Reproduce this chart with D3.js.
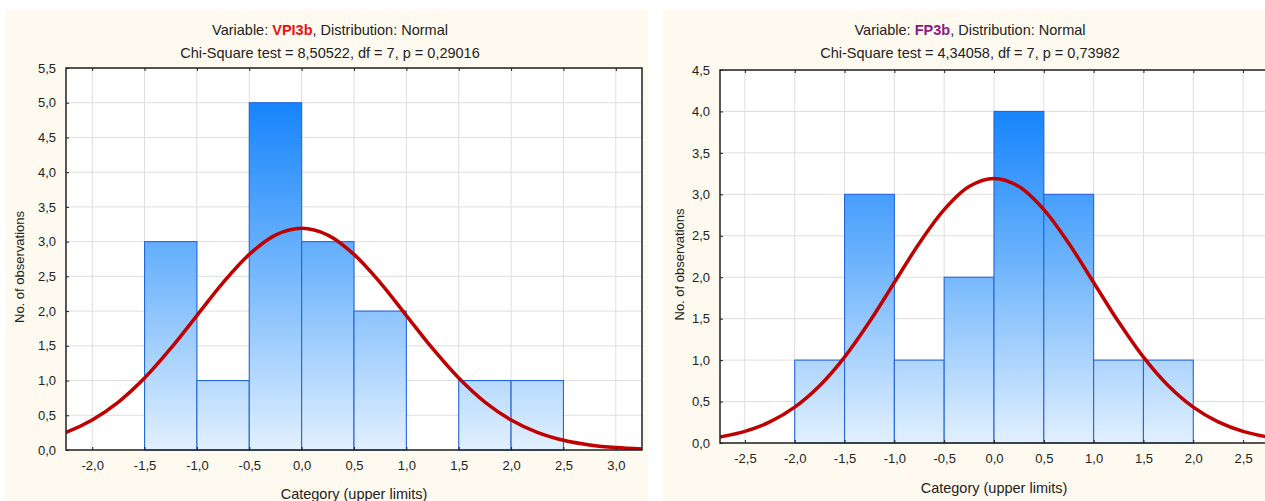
<!DOCTYPE html>
<html>
<head>
<meta charset="utf-8">
<script src="https://cdn.jsdelivr.net/npm/d3@7"></script>
<style>
  body { margin: 0; background: #fff; }
  text { font-family: "Liberation Sans", Arial, sans-serif; fill: #222; }
</style>
</head>
<body>
<svg id="chart" width="1265" height="501"></svg>
<script>
// bin edges (lower limits) and counts
const leftBins = [-1.5, -1.0, -0.5, 0.0, 0.5, 1.0, 1.5, 2.0];
const leftCounts = [3, 1, 5, 3, 2, 0, 1, 1];
const rightBins = [-2.0, -1.5, -1.0, -0.5, 0.0, 0.5, 1.0, 1.5];
const rightCounts = [1, 3, 1, 2, 4, 3, 1, 1];
const binWidth = 0.5;

// expected normal curve
const curveX = [-2.75, -2.5, -2.25, -2.0, -1.75, -1.5, -1.25, -1.0, -0.75, -0.5, -0.25, 0.0,
                0.25, 0.5, 0.75, 1.0, 1.25, 1.5, 1.75, 2.0, 2.25, 2.5, 2.75, 3.0, 3.25];
const curveY = [0.073, 0.140, 0.254, 0.432, 0.690, 1.036, 1.462, 1.936, 2.410, 2.816, 3.094, 3.191,
                3.094, 2.816, 2.410, 1.936, 1.462, 1.036, 0.690, 0.432, 0.254, 0.140, 0.073, 0.035, 0.016];

const leftXTicks = [-2.0, -1.5, -1.0, -0.5, 0.0, 0.5, 1.0, 1.5, 2.0, 2.5, 3.0];
const leftYTicks = [0, 0.5, 1, 1.5, 2, 2.5, 3, 3.5, 4, 4.5, 5, 5.5];
const rightXTicks = [-2.5, -2.0, -1.5, -1.0, -0.5, 0.0, 0.5, 1.0, 1.5, 2.0, 2.5];
const rightYTicks = [0, 0.5, 1, 1.5, 2, 2.5, 3, 3.5, 4, 4.5];

const locale = d3.formatLocale({ decimal: ",", thousands: ".", grouping: [3], currency: ["", ""], minus: "-" });
const fmt = locale.format(".1f");

const svg = d3.select("#chart");
const defs = svg.append("defs");

function drawPanel(o) {
    // panel background
    svg.append("rect")
        .attr("x", o.panel[0]).attr("y", o.panel[1])
        .attr("width", o.panel[2]).attr("height", o.panel[3])
        .attr("fill", "#fefaf0");

    const x = d3.scaleLinear().domain(o.xDomain).range([o.left, o.right]);
    const y = d3.scaleLinear().domain(o.yDomain).range([o.bottom, o.top]);

    // plot area
    svg.append("rect")
        .attr("x", o.left).attr("y", o.top)
        .attr("width", o.right - o.left).attr("height", o.bottom - o.top)
        .attr("fill", "#fff");

    defs.append("clipPath").attr("id", "clip-" + o.id)
        .append("rect")
        .attr("x", o.left).attr("y", o.top)
        .attr("width", o.right - o.left).attr("height", o.bottom - o.top);

    // grid
    const g = svg.append("g");
    g.selectAll(".gx").data(o.xTicks).enter().append("line")
        .attr("x1", d => x(d)).attr("x2", d => x(d))
        .attr("y1", o.top).attr("y2", o.bottom)
        .attr("stroke", "#dedede");
    g.selectAll(".gy").data(o.yTicks).enter().append("line")
        .attr("x1", o.left).attr("x2", o.right)
        .attr("y1", d => y(d)).attr("y2", d => y(d))
        .attr("stroke", "#dedede");

    // gradient runs from tallest bar down to baseline
    const grad = defs.append("linearGradient")
        .attr("id", "grad-" + o.id)
        .attr("gradientUnits", "userSpaceOnUse")
        .attr("x1", 0).attr("x2", 0)
        .attr("y1", y(d3.max(o.counts))).attr("y2", y(0));
    grad.append("stop").attr("offset", "0%").attr("stop-color", "#1784fb");
    grad.append("stop").attr("offset", "45%").attr("stop-color", "#6cb3fc");
    grad.append("stop").attr("offset", "100%").attr("stop-color", "#e2f0ff");

    const bars = o.bins.map((b, i) => ({ lo: b, hi: b + binWidth, n: o.counts[i] })).filter(d => d.n > 0);
    svg.append("g").selectAll("rect").data(bars).enter().append("rect")
        .attr("x", d => x(d.lo))
        .attr("y", d => y(d.n))
        .attr("width", d => x(d.hi) - x(d.lo))
        .attr("height", d => y(0) - y(d.n))
        .attr("fill", "url(#grad-" + o.id + ")")
        .attr("stroke", "#2566d8")
        .attr("stroke-width", 1.1);

    // normal curve
    const line = d3.line()
        .x((d, i) => x(curveX[i]))
        .y(d => y(d))
        .curve(d3.curveCatmullRom);
    svg.append("path")
        .datum(curveY)
        .attr("clip-path", "url(#clip-" + o.id + ")")
        .attr("d", line)
        .attr("fill", "none")
        .attr("stroke", "#c00000")
        .attr("stroke-width", 3.5);

    // frame
    svg.append("rect")
        .attr("x", o.left).attr("y", o.top)
        .attr("width", o.right - o.left).attr("height", o.bottom - o.top)
        .attr("fill", "none").attr("stroke", "#222").attr("stroke-width", 1.5);

    // axes with inner ticks
    svg.append("g")
        .attr("transform", "translate(0," + o.bottom + ")")
        .call(d3.axisBottom(x).tickValues(o.xTicks).tickFormat(fmt).tickSizeInner(-3).tickSizeOuter(0).tickPadding(11))
        .call(a => a.select(".domain").remove())
        .call(a => a.selectAll("text").attr("font-size", 13).attr("font-family", null))
        .call(a => a.selectAll("line").attr("stroke", "#222"));
    svg.append("g")
        .attr("transform", "translate(0," + o.top + ")")
        .call(d3.axisTop(x).tickValues(o.xTicks).tickFormat("").tickSizeInner(-3).tickSizeOuter(0))
        .call(a => a.select(".domain").remove())
        .call(a => a.selectAll("line").attr("stroke", "#222"));
    svg.append("g")
        .attr("transform", "translate(" + o.left + ",0)")
        .call(d3.axisLeft(y).tickValues(o.yTicks).tickFormat(fmt).tickSizeInner(-3).tickSizeOuter(0).tickPadding(10))
        .call(a => a.select(".domain").remove())
        .call(a => a.selectAll("text").attr("font-size", 13).attr("font-family", null))
        .call(a => a.selectAll("line").attr("stroke", "#222"));

    // titles
    const t1 = svg.append("text")
        .attr("x", o.titleX).attr("y", 35)
        .attr("text-anchor", "middle").attr("font-size", 14.5);
    t1.append("tspan").text("Variable: ");
    t1.append("tspan").text(o.variable).attr("fill", o.varColor).attr("font-weight", "bold");
    t1.append("tspan").text(", Distribution: Normal");

    svg.append("text")
        .attr("x", o.titleX).attr("y", 58)
        .attr("text-anchor", "middle").attr("font-size", 14.5)
        .text(o.subtitle);

    svg.append("text")
        .attr("x", (o.left + o.right) / 2).attr("y", o.xLabelY)
        .attr("text-anchor", "middle").attr("font-size", 14.5)
        .text("Category (upper limits)");

    svg.append("text")
        .attr("transform", "translate(" + o.yLabelX + "," + ((o.top + o.bottom) / 2 + 8) + ") rotate(-90)")
        .attr("text-anchor", "middle").attr("font-size", 13)
        .text("No. of observations");
}

drawPanel({
    id: "l", panel: [5, 10, 643, 500],
    left: 66, right: 642, top: 68, bottom: 450,
    xDomain: [-2.25, 3.25], yDomain: [0, 5.5],
    xTicks: leftXTicks, yTicks: leftYTicks,
    bins: leftBins, counts: leftCounts,
    titleX: 330, variable: "VPI3b", varColor: "#ee1111",
    subtitle: "Chi-Square test = 8,50522, df = 7, p = 0,29016",
    xLabelY: 499, yLabelX: 24
});

drawPanel({
    id: "r", panel: [663, 10, 620, 500],
    left: 720, right: 1268, top: 70, bottom: 443,
    xDomain: [-2.75, 2.75], yDomain: [0, 4.5],
    xTicks: rightXTicks, yTicks: rightYTicks,
    bins: rightBins, counts: rightCounts,
    titleX: 970, variable: "FP3b", varColor: "#8a1a8a",
    subtitle: "Chi-Square test = 4,34058, df = 7, p = 0,73982",
    xLabelY: 493, yLabelX: 684
});
</script>
</body>
</html>
